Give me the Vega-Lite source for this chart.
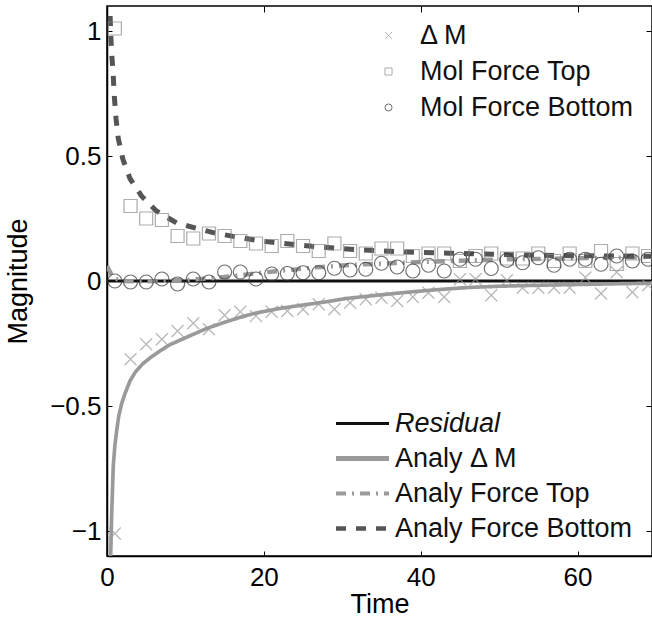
{
  "$schema": "https://vega.github.io/schema/vega-lite/v6.json",
  "width": 545,
  "height": 550,
  "autosize": {"type": "none"},
  "padding": {"left": 107, "top": 6, "right": 0, "bottom": 67},
  "background": "white",
  "config": {
    "font": "Liberation Sans",
    "view": {"stroke": "black", "strokeWidth": 1.5},
    "axis": {"grid": false, "labelFont": "Liberation Sans", "titleFont": "Liberation Sans", "labelColor": "black", "titleColor": "black", "tickColor": "black", "domainColor": "black", "domainWidth": 1.5, "tickWidth": 1, "labelFontSize": 26, "titleFontSize": 27, "titleFontWeight": "normal"},
    "legend": {"labelFont": "Liberation Sans", "labelFontSize": 27, "labelColor": "#111", "padding": 0, "labelLimit": 500}
  },
  "datasets": {
    "lines": [
      {"series": "Residual", "t": 0, "v": 0},
      {"series": "Residual", "t": 69.5, "v": 0},
      {"series": "Analy Δ M", "t": 0.3, "v": -1.3},
      {"series": "Analy Δ M", "t": 0.47, "v": -1.1},
      {"series": "Analy Δ M", "t": 0.6, "v": -0.93},
      {"series": "Analy Δ M", "t": 0.8, "v": -0.74},
      {"series": "Analy Δ M", "t": 1.0, "v": -0.66},
      {"series": "Analy Δ M", "t": 1.23, "v": -0.6},
      {"series": "Analy Δ M", "t": 1.5, "v": -0.54},
      {"series": "Analy Δ M", "t": 1.87, "v": -0.49},
      {"series": "Analy Δ M", "t": 2.3, "v": -0.45},
      {"series": "Analy Δ M", "t": 2.93, "v": -0.4},
      {"series": "Analy Δ M", "t": 3.6, "v": -0.365},
      {"series": "Analy Δ M", "t": 4.6, "v": -0.33},
      {"series": "Analy Δ M", "t": 5.6, "v": -0.305},
      {"series": "Analy Δ M", "t": 6.75, "v": -0.28},
      {"series": "Analy Δ M", "t": 8.0, "v": -0.255},
      {"series": "Analy Δ M", "t": 10.5, "v": -0.22},
      {"series": "Analy Δ M", "t": 12.7, "v": -0.19},
      {"series": "Analy Δ M", "t": 15, "v": -0.165},
      {"series": "Analy Δ M", "t": 17, "v": -0.145},
      {"series": "Analy Δ M", "t": 19, "v": -0.128},
      {"series": "Analy Δ M", "t": 22, "v": -0.11},
      {"series": "Analy Δ M", "t": 25, "v": -0.096},
      {"series": "Analy Δ M", "t": 27.6, "v": -0.085},
      {"series": "Analy Δ M", "t": 30.5, "v": -0.07},
      {"series": "Analy Δ M", "t": 35, "v": -0.055},
      {"series": "Analy Δ M", "t": 39, "v": -0.043},
      {"series": "Analy Δ M", "t": 42, "v": -0.035},
      {"series": "Analy Δ M", "t": 46, "v": -0.026},
      {"series": "Analy Δ M", "t": 50, "v": -0.021},
      {"series": "Analy Δ M", "t": 55, "v": -0.017},
      {"series": "Analy Δ M", "t": 60, "v": -0.014},
      {"series": "Analy Δ M", "t": 65, "v": -0.011},
      {"series": "Analy Δ M", "t": 69.5, "v": -0.009},
      {"series": "Analy Force Top", "t": 0, "v": 0.06},
      {"series": "Analy Force Top", "t": 0.5, "v": 0.03},
      {"series": "Analy Force Top", "t": 1, "v": 0.01},
      {"series": "Analy Force Top", "t": 2, "v": 0.0},
      {"series": "Analy Force Top", "t": 4, "v": -0.002},
      {"series": "Analy Force Top", "t": 7, "v": 0.0},
      {"series": "Analy Force Top", "t": 9, "v": 0.003},
      {"series": "Analy Force Top", "t": 13, "v": 0.01},
      {"series": "Analy Force Top", "t": 16, "v": 0.02},
      {"series": "Analy Force Top", "t": 20, "v": 0.034},
      {"series": "Analy Force Top", "t": 23, "v": 0.043},
      {"series": "Analy Force Top", "t": 26, "v": 0.053},
      {"series": "Analy Force Top", "t": 30, "v": 0.062},
      {"series": "Analy Force Top", "t": 33, "v": 0.067},
      {"series": "Analy Force Top", "t": 37, "v": 0.072},
      {"series": "Analy Force Top", "t": 40, "v": 0.076},
      {"series": "Analy Force Top", "t": 44, "v": 0.08},
      {"series": "Analy Force Top", "t": 48, "v": 0.084},
      {"series": "Analy Force Top", "t": 52, "v": 0.087},
      {"series": "Analy Force Top", "t": 58, "v": 0.09},
      {"series": "Analy Force Top", "t": 64, "v": 0.093},
      {"series": "Analy Force Top", "t": 69.5, "v": 0.096},
      {"series": "Analy Force Bottom", "t": 0.25, "v": 1.3},
      {"series": "Analy Force Bottom", "t": 0.38, "v": 1.08},
      {"series": "Analy Force Bottom", "t": 0.47, "v": 0.99},
      {"series": "Analy Force Bottom", "t": 0.6, "v": 0.91},
      {"series": "Analy Force Bottom", "t": 0.8, "v": 0.82},
      {"series": "Analy Force Bottom", "t": 0.93, "v": 0.74},
      {"series": "Analy Force Bottom", "t": 1.15, "v": 0.65},
      {"series": "Analy Force Bottom", "t": 1.44, "v": 0.57},
      {"series": "Analy Force Bottom", "t": 2.0, "v": 0.49},
      {"series": "Analy Force Bottom", "t": 2.93, "v": 0.41},
      {"series": "Analy Force Bottom", "t": 4.4, "v": 0.34},
      {"series": "Analy Force Bottom", "t": 6.3, "v": 0.28},
      {"series": "Analy Force Bottom", "t": 8.9, "v": 0.232},
      {"series": "Analy Force Bottom", "t": 11.5, "v": 0.21},
      {"series": "Analy Force Bottom", "t": 14, "v": 0.19},
      {"series": "Analy Force Bottom", "t": 16.6, "v": 0.176},
      {"series": "Analy Force Bottom", "t": 19.2, "v": 0.162},
      {"series": "Analy Force Bottom", "t": 22, "v": 0.152},
      {"series": "Analy Force Bottom", "t": 27.2, "v": 0.136},
      {"series": "Analy Force Bottom", "t": 32.6, "v": 0.124},
      {"series": "Analy Force Bottom", "t": 38.2, "v": 0.116},
      {"series": "Analy Force Bottom", "t": 43.7, "v": 0.111},
      {"series": "Analy Force Bottom", "t": 51.8, "v": 0.105},
      {"series": "Analy Force Bottom", "t": 57.4, "v": 0.102},
      {"series": "Analy Force Bottom", "t": 64.1, "v": 0.1},
      {"series": "Analy Force Bottom", "t": 69.5, "v": 0.099}
    ],
    "points": [
      {"series": "Δ M", "t": 1, "v": -1.01},
      {"series": "Δ M", "t": 3, "v": -0.313},
      {"series": "Δ M", "t": 5, "v": -0.253},
      {"series": "Δ M", "t": 7, "v": -0.233},
      {"series": "Δ M", "t": 9, "v": -0.2},
      {"series": "Δ M", "t": 11, "v": -0.169},
      {"series": "Δ M", "t": 13, "v": -0.193},
      {"series": "Δ M", "t": 15, "v": -0.137},
      {"series": "Δ M", "t": 17, "v": -0.123},
      {"series": "Δ M", "t": 19, "v": -0.14},
      {"series": "Δ M", "t": 21, "v": -0.123},
      {"series": "Δ M", "t": 23, "v": -0.12},
      {"series": "Δ M", "t": 25, "v": -0.113},
      {"series": "Δ M", "t": 27, "v": -0.093},
      {"series": "Δ M", "t": 29, "v": -0.113},
      {"series": "Δ M", "t": 31, "v": -0.087},
      {"series": "Δ M", "t": 33, "v": -0.073},
      {"series": "Δ M", "t": 35, "v": -0.067},
      {"series": "Δ M", "t": 37, "v": -0.08},
      {"series": "Δ M", "t": 39, "v": -0.064},
      {"series": "Δ M", "t": 41, "v": -0.047},
      {"series": "Δ M", "t": 43, "v": -0.064},
      {"series": "Δ M", "t": 45, "v": 0.007},
      {"series": "Δ M", "t": 47, "v": 0.007},
      {"series": "Δ M", "t": 49, "v": -0.057},
      {"series": "Δ M", "t": 51, "v": 0.003},
      {"series": "Δ M", "t": 53, "v": -0.027},
      {"series": "Δ M", "t": 55, "v": -0.027},
      {"series": "Δ M", "t": 57, "v": -0.027},
      {"series": "Δ M", "t": 59, "v": -0.027},
      {"series": "Δ M", "t": 61, "v": 0.014},
      {"series": "Δ M", "t": 63, "v": -0.05},
      {"series": "Δ M", "t": 65, "v": 0.035},
      {"series": "Δ M", "t": 67, "v": -0.045},
      {"series": "Δ M", "t": 69, "v": -0.017},
      {"series": "Mol Force Top", "t": 1, "v": 1.01},
      {"series": "Mol Force Top", "t": 3, "v": 0.3},
      {"series": "Mol Force Top", "t": 5, "v": 0.25},
      {"series": "Mol Force Top", "t": 7, "v": 0.244},
      {"series": "Mol Force Top", "t": 9, "v": 0.18},
      {"series": "Mol Force Top", "t": 11, "v": 0.17},
      {"series": "Mol Force Top", "t": 13, "v": 0.19},
      {"series": "Mol Force Top", "t": 15, "v": 0.18},
      {"series": "Mol Force Top", "t": 17, "v": 0.16},
      {"series": "Mol Force Top", "t": 19, "v": 0.15},
      {"series": "Mol Force Top", "t": 21, "v": 0.14},
      {"series": "Mol Force Top", "t": 23, "v": 0.16},
      {"series": "Mol Force Top", "t": 25, "v": 0.14},
      {"series": "Mol Force Top", "t": 27, "v": 0.12},
      {"series": "Mol Force Top", "t": 29, "v": 0.15},
      {"series": "Mol Force Top", "t": 31, "v": 0.12},
      {"series": "Mol Force Top", "t": 33, "v": 0.11},
      {"series": "Mol Force Top", "t": 35, "v": 0.13},
      {"series": "Mol Force Top", "t": 37, "v": 0.13},
      {"series": "Mol Force Top", "t": 39, "v": 0.1},
      {"series": "Mol Force Top", "t": 41, "v": 0.11},
      {"series": "Mol Force Top", "t": 43, "v": 0.11},
      {"series": "Mol Force Top", "t": 45, "v": 0.08},
      {"series": "Mol Force Top", "t": 47, "v": 0.1},
      {"series": "Mol Force Top", "t": 49, "v": 0.11},
      {"series": "Mol Force Top", "t": 51, "v": 0.09},
      {"series": "Mol Force Top", "t": 53, "v": 0.09},
      {"series": "Mol Force Top", "t": 55, "v": 0.11},
      {"series": "Mol Force Top", "t": 57, "v": 0.08},
      {"series": "Mol Force Top", "t": 59, "v": 0.11},
      {"series": "Mol Force Top", "t": 61, "v": 0.08},
      {"series": "Mol Force Top", "t": 63, "v": 0.12},
      {"series": "Mol Force Top", "t": 65, "v": 0.068},
      {"series": "Mol Force Top", "t": 67, "v": 0.11},
      {"series": "Mol Force Top", "t": 69, "v": 0.1},
      {"series": "Mol Force Bottom", "t": 1, "v": 0.0},
      {"series": "Mol Force Bottom", "t": 3, "v": -0.004},
      {"series": "Mol Force Bottom", "t": 5, "v": -0.004},
      {"series": "Mol Force Bottom", "t": 7, "v": 0.008},
      {"series": "Mol Force Bottom", "t": 9, "v": -0.012},
      {"series": "Mol Force Bottom", "t": 11, "v": 0.008},
      {"series": "Mol Force Bottom", "t": 13, "v": -0.004},
      {"series": "Mol Force Bottom", "t": 15, "v": 0.036},
      {"series": "Mol Force Bottom", "t": 17, "v": 0.036},
      {"series": "Mol Force Bottom", "t": 19, "v": 0.008},
      {"series": "Mol Force Bottom", "t": 21, "v": 0.028},
      {"series": "Mol Force Bottom", "t": 23, "v": 0.03},
      {"series": "Mol Force Bottom", "t": 25, "v": 0.033},
      {"series": "Mol Force Bottom", "t": 27, "v": 0.033},
      {"series": "Mol Force Bottom", "t": 29, "v": 0.051},
      {"series": "Mol Force Bottom", "t": 31, "v": 0.044},
      {"series": "Mol Force Bottom", "t": 33, "v": 0.047},
      {"series": "Mol Force Bottom", "t": 35, "v": 0.071},
      {"series": "Mol Force Bottom", "t": 37, "v": 0.056},
      {"series": "Mol Force Bottom", "t": 39, "v": 0.04},
      {"series": "Mol Force Bottom", "t": 41, "v": 0.063},
      {"series": "Mol Force Bottom", "t": 43, "v": 0.04},
      {"series": "Mol Force Bottom", "t": 45, "v": 0.087},
      {"series": "Mol Force Bottom", "t": 47, "v": 0.087},
      {"series": "Mol Force Bottom", "t": 49, "v": 0.05},
      {"series": "Mol Force Bottom", "t": 51, "v": 0.083},
      {"series": "Mol Force Bottom", "t": 53, "v": 0.073},
      {"series": "Mol Force Bottom", "t": 55, "v": 0.093},
      {"series": "Mol Force Bottom", "t": 57, "v": 0.063},
      {"series": "Mol Force Bottom", "t": 59, "v": 0.087},
      {"series": "Mol Force Bottom", "t": 61, "v": 0.087},
      {"series": "Mol Force Bottom", "t": 63, "v": 0.067},
      {"series": "Mol Force Bottom", "t": 65, "v": 0.1},
      {"series": "Mol Force Bottom", "t": 67, "v": 0.08},
      {"series": "Mol Force Bottom", "t": 69, "v": 0.087}
    ]
  },
  "layer": [
    {
      "data": {"name": "lines"},
      "mark": {"type": "line", "clip": true},
      "encoding": {
        "x": {"field": "t", "type": "quantitative", "scale": {"domain": [0, 69.5], "nice": false, "zero": false},
          "axis": {"orient": "bottom", "values": [0, 20, 40, 60], "format": ".1~f", "tickSize": -5, "labelPadding": 13, "title": "Time", "titlePadding": 1, "labelFlush": false}},
        "y": {"field": "v", "type": "quantitative", "scale": {"domain": [-1.1, 1.1], "nice": false, "zero": false},
          "axis": {"orient": "left", "values": [-1, -0.5, 0, 0.5, 1], "format": ".1~f", "tickSize": -5, "labelPadding": 11, "title": "Magnitude", "titlePadding": 17, "labelFlush": false}},
        "color": {"field": "series", "type": "nominal",
          "scale": {"domain": ["Residual", "Analy Δ M", "Analy Force Top", "Analy Force Bottom"], "range": ["#111111", "#9a9a9a", "#9a9a9a", "#555555"]},
          "legend": {"title": null, "orient": "none", "legendX": 242, "legendY": 404, "symbolType": "stroke", "symbolSize": 2809, "labelOffset": 19, "rowPadding": 7,
            "encode": {
              "labels": {"update": {"fontStyle": {"signal": "datum.label === 'Residual' ? 'italic' : 'normal'"}}},
              "symbols": {"update": {
                "strokeDash": {"signal": "datum.value === 'Analy Force Top' ? [10, 6, 2, 6] : datum.value === 'Analy Force Bottom' ? [10, 10] : [1, 0]"},
                "strokeWidth": {"signal": "datum.value === 'Residual' ? 3 : datum.value === 'Analy Δ M' ? 5 : datum.value === 'Analy Force Top' ? 4 : 4.5"}}}}}},
        "strokeDash": {"field": "series", "type": "nominal",
          "scale": {"domain": ["Residual", "Analy Δ M", "Analy Force Top", "Analy Force Bottom"], "range": [[1, 0], [1, 0], [10, 6, 2, 6], [10, 10]]},
          "legend": null},
        "strokeWidth": {"field": "series", "type": "nominal",
          "scale": {"domain": ["Residual", "Analy Δ M", "Analy Force Top", "Analy Force Bottom"], "range": [3, 5, 4, 4.5]},
          "legend": null}
      }
    },
    {
      "data": {"name": "points"},
      "mark": {"type": "point", "filled": false, "clip": true, "strokeWidth": 1.2},
      "encoding": {
        "x": {"field": "t", "type": "quantitative",
          "axis": {"orient": "top", "values": [0, 20, 40, 60], "labels": false, "title": null, "ticks": true, "tickSize": -6, "tickColor": "black", "domain": false}},
        "y": {"field": "v", "type": "quantitative",
          "axis": {"orient": "right", "values": [-1, -0.5, 0, 0.5, 1], "labels": false, "title": null, "ticks": true, "tickSize": -6, "tickColor": "black", "domain": false}},
        "shape": {"field": "series", "type": "nominal",
          "scale": {"domain": ["Δ M", "Mol Force Top", "Mol Force Bottom"], "range": ["M-1,-1L1,1M-1,1L1,-1", "square", "circle"]},
          "legend": {"title": null, "orient": "none", "legendX": 268, "legendY": 16, "symbolSize": 50, "labelOffset": 18, "rowPadding": 8, "symbolStrokeWidth": 1}},
        "color": {"field": "series", "type": "nominal",
          "scale": {"domain": ["Δ M", "Mol Force Top", "Mol Force Bottom"], "range": ["#999999", "#8a8a8a", "#333333"]},
          "legend": {"title": null, "orient": "none", "legendX": 268, "legendY": 16, "symbolSize": 50, "labelOffset": 18, "rowPadding": 8, "symbolStrokeWidth": 1}},
        "size": {"field": "series", "type": "nominal",
          "scale": {"domain": ["Δ M", "Mol Force Top", "Mol Force Bottom"], "range": [144, 196, 177]},
          "legend": null}
      }
    }
  ],
  "resolve": {"axis": {"x": "independent", "y": "independent"}, "scale": {"color": "independent", "shape": "independent"}, "legend": {"color": "independent", "shape": "independent"}}
}
